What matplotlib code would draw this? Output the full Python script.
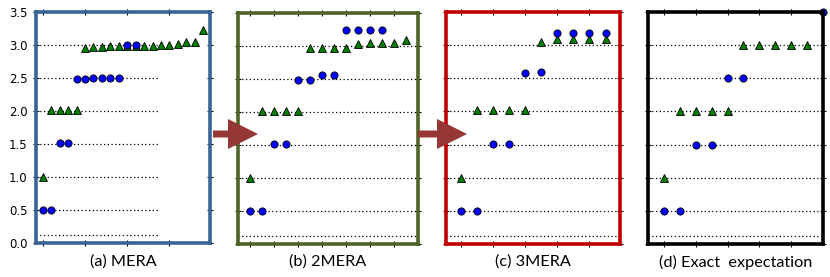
import numpy as np
import matplotlib.pyplot as plt
from matplotlib.patches import FancyArrow

# ---- data ----
# (a) MERA
a_circ_x = [0, 1, 2, 3, 4, 5, 6, 7, 8, 9, 10, 11]
a_circ_y = [0.5, 0.5, 1.52, 1.52, 2.49, 2.49, 2.5, 2.5, 2.5, 2.5, 3.0, 3.0]
a_tri_x = [0, 1, 2, 3, 4, 5, 6, 7, 8, 9, 10, 11, 12, 13, 14, 15, 16, 17, 18, 19]
a_tri_y = [1.0, 2.02, 2.02, 2.02, 2.02, 2.96, 2.97, 2.97, 2.98, 2.98, 2.99, 2.99,
           2.99, 2.99, 3.0, 3.0, 3.01, 3.04, 3.04, 3.22]

# (b) 2MERA
b_circ_x = [0, 1, 2, 3, 4, 5, 6, 7, 8, 9, 10, 11]
b_circ_y = [0.5, 0.5, 1.51, 1.51, 2.48, 2.48, 2.56, 2.56, 3.24, 3.24, 3.24, 3.24]
b_tri_x = [0, 1, 2, 3, 4, 5, 6, 7, 8, 9, 10, 11, 12, 13]
b_tri_y = [1.0, 2.01, 2.01, 2.01, 2.01, 2.97, 2.97, 2.97, 2.97, 3.03, 3.05, 3.05, 3.05, 3.09]

# (c) 3MERA
c_circ_x = [0, 1, 2, 3, 4, 5, 6, 7, 8, 9]
c_circ_y = [0.5, 0.5, 1.51, 1.51, 2.58, 2.6, 3.18, 3.18, 3.18, 3.18]
c_tri_x = [0, 1, 2, 3, 4, 5, 6, 7, 8, 9]
c_tri_y = [1.0, 2.02, 2.02, 2.02, 2.02, 3.04, 3.09, 3.09, 3.09, 3.09]

# (d) exact
d_circ_x = [0, 1, 2, 3, 4, 5, 10]
d_circ_y = [0.5, 0.5, 1.5, 1.5, 2.5, 2.5, 3.5]
d_tri_x = [0, 1, 2, 3, 4, 5, 6, 7, 8, 9]
d_tri_y = [1.0, 2.0, 2.0, 2.0, 2.0, 3.0, 3.0, 3.0, 3.0, 3.0]

levels = [0.125, 0.5, 1.0, 1.5, 2.0, 2.5, 3.0]
titles = ["(a) MERA", "(b) 2MERA", "(c) 3MERA", "(d) Exact  expectation"]

W, H = 830, 277
fig = plt.figure(figsize=(W / 100, H / 100), dpi=100)

def px_axes(x0, y0, x1, y1):
    return fig.add_axes([x0 / W, (H - y1) / H, (x1 - x0) / W, (y1 - y0) / H])

panels = [
    dict(box=(36, 12, 210, 243), xlim=(-0.8, 19.8), xt=[0, 5, 10, 15], line_end=13.6,
         cx=a_circ_x, cy=a_circ_y, tx=a_tri_x, ty=a_tri_y, color="#3a6496"),
    dict(box=(238, 13, 418, 244), xlim=(-1, 14), xt=[0, 2, 4, 6, 8, 10, 12], line_end=14,
         cx=b_circ_x, cy=b_circ_y, tx=b_tri_x, ty=b_tri_y, color="#4f6228"),
    dict(box=(446, 12, 620, 244), xlim=(-0.9, 9.9), xt=[0, 2, 4, 6, 8], line_end=10,
         cx=c_circ_x, cy=c_circ_y, tx=c_tri_x, ty=c_tri_y, color="#c00000"),
    dict(box=(648, 12, 823, 244), xlim=(-1, 10), xt=[0, 2, 4, 6, 8], line_end=10,
         cx=d_circ_x, cy=d_circ_y, tx=d_tri_x, ty=d_tri_y, color="black"),
]

for i, p in enumerate(panels):
    ax = px_axes(*p["box"])
    ax.hlines(levels, p["xlim"][0], p["line_end"], colors="k", linestyles=(0, (1, 2)),
              lw=0.9, zorder=1)
    ax.plot(p["tx"], p["ty"], "^", color=(0, 0.5, 0), mec="k", mew=0.6, ms=5.5, zorder=3,
            clip_on=False)
    ax.plot(p["cx"], p["cy"], "o", color="b", mec="k", mew=0.6, ms=5.2, zorder=4,
            clip_on=False)
    ax.set_xlim(*p["xlim"])
    ax.set_ylim(0, 3.5)
    ax.set_xticks(p["xt"])
    ax.set_xticklabels([])
    ax.set_yticks(np.arange(0, 3.51, 0.5))
    ax.tick_params(direction="inout", length=5, width=0.8, top=True, right=True,
                   labelsize=8.5)
    if i > 0:
        ax.set_yticklabels([])
    for s in ax.spines.values():
        s.set_color(p["color"])
        s.set_linewidth(2.6)
        s.set_zorder(5)
    x0, y0, x1, y1 = p["box"]
    fig.text((x0 + x1) / 2 / W, (H - 262) / H, titles[i], ha="center", va="center",
             fontsize=11.7, family="Lato")

# arrows between panels
for xs, xe in [(213, 258), (418, 467)]:
    arr = FancyArrow(xs / W, (H - 134) / H, (xe - xs) / W, 0, width=7 / H,
                     head_width=30 / H, head_length=30 / W, length_includes_head=True,
                     transform=fig.transFigure, color="#953735", lw=0, zorder=10)
    fig.add_artist(arr)

fig.savefig("out.png", dpi=100)
